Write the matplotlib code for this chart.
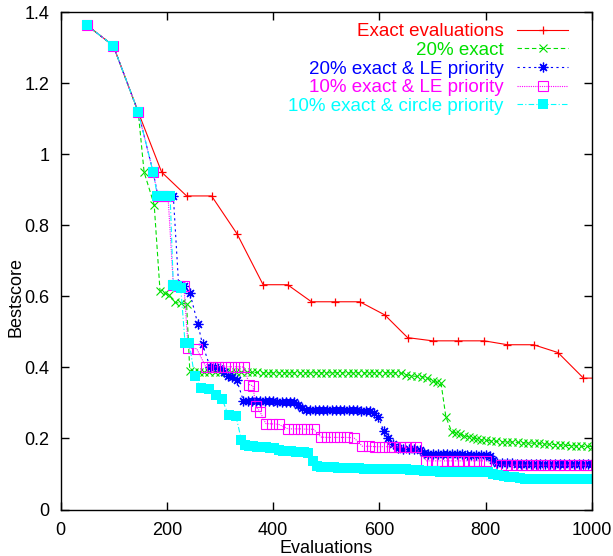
import matplotlib
matplotlib.use("Agg")
import matplotlib.pyplot as plt
from matplotlib.ticker import MultipleLocator, FormatStrFormatter

plt.rcParams['font.family'] = ['Liberation Sans', 'DejaVu Sans']
plt.rcParams['font.size'] = 13

# Exact evaluations
red_x = [50, 99, 146, 190, 237, 284, 332, 381, 427, 472,
         517, 563, 610, 653, 700, 748, 797, 841, 890, 936,
         984, 1000]
red_y = [1.363, 1.306, 1.119, 0.950, 0.883, 0.883, 0.776, 0.633, 0.633, 0.585,
         0.585, 0.585, 0.548, 0.484, 0.475, 0.475, 0.475, 0.464, 0.464, 0.442,
         0.370, 0.370]

# 20% exact
green_x = [50, 99, 146, 157, 176, 187, 196, 204, 215, 226,
           237, 243, 250, 260, 270, 280, 290, 300, 310, 320,
           330, 340, 350, 360, 370, 380, 390, 400, 410, 420,
           430, 440, 450, 460, 470, 480, 490, 500, 510, 520,
           530, 540, 550, 560, 570, 580, 590, 600, 610, 620,
           630, 640, 650, 660, 670, 680, 690, 700, 708, 716,
           725, 736, 744, 752, 760, 768, 776, 784, 792, 800,
           810, 820, 830, 840, 850, 860, 870, 880, 890, 900,
           910, 920, 930, 940, 950, 960, 970, 980, 990, 1000]
green_y = [1.363, 1.306, 1.119, 0.950, 0.858, 0.615, 0.609, 0.604, 0.583, 0.581,
           0.579, 0.391, 0.388, 0.387, 0.386, 0.386, 0.386, 0.386, 0.386, 0.386,
           0.386, 0.386, 0.386, 0.386, 0.386, 0.385, 0.385, 0.385, 0.385, 0.385,
           0.385, 0.385, 0.385, 0.385, 0.385, 0.385, 0.385, 0.385, 0.385, 0.385,
           0.385, 0.385, 0.385, 0.385, 0.385, 0.385, 0.385, 0.385, 0.385, 0.385,
           0.385, 0.384, 0.380, 0.376, 0.375, 0.374, 0.371, 0.362, 0.358, 0.355,
           0.261, 0.219, 0.215, 0.212, 0.208, 0.204, 0.202, 0.199, 0.196, 0.195,
           0.193, 0.192, 0.191, 0.190, 0.190, 0.189, 0.188, 0.187, 0.187, 0.186,
           0.185, 0.184, 0.183, 0.182, 0.181, 0.180, 0.179, 0.178, 0.178, 0.177]

# 20% exact & LE priority
blue_x = [50, 99, 146, 174, 183, 193, 203, 212, 222, 232,
          243, 258, 267, 281, 290, 300, 308, 315, 323, 331,
          344, 352, 360, 368, 376, 384, 392, 400, 408, 416,
          424, 432, 440, 447, 454, 462, 470, 478, 486, 494,
          502, 510, 518, 526, 534, 542, 550, 558, 566, 574,
          582, 590, 598, 608, 617, 626, 635, 645, 655, 665,
          676, 683, 692, 701, 710, 719, 728, 737, 746, 755,
          764, 773, 782, 791, 800, 808, 814, 822, 831, 840,
          849, 858, 867, 876, 885, 894, 903, 912, 921, 930,
          939, 948, 957, 966, 975, 984, 993, 1000]
blue_y = [1.363, 1.306, 1.119, 0.950, 0.883, 0.883, 0.883, 0.883, 0.632, 0.630,
          0.611, 0.523, 0.465, 0.402, 0.400, 0.398, 0.388, 0.377, 0.372, 0.366,
          0.306, 0.306, 0.306, 0.305, 0.305, 0.305, 0.305, 0.305, 0.304, 0.304,
          0.304, 0.304, 0.304, 0.295, 0.285, 0.280, 0.279, 0.279, 0.279, 0.279,
          0.279, 0.279, 0.279, 0.279, 0.279, 0.279, 0.279, 0.279, 0.278, 0.278,
          0.278, 0.272, 0.260, 0.222, 0.200, 0.185, 0.172, 0.171, 0.170, 0.170,
          0.169, 0.160, 0.157, 0.157, 0.156, 0.156, 0.156, 0.155, 0.155, 0.155,
          0.154, 0.154, 0.154, 0.153, 0.153, 0.152, 0.139, 0.131, 0.130, 0.130,
          0.130, 0.129, 0.129, 0.129, 0.129, 0.128, 0.128, 0.128, 0.128, 0.128,
          0.128, 0.127, 0.127, 0.127, 0.127, 0.127, 0.127, 0.127]

# 10% exact & LE priority
mag_x = [50, 99, 146, 174, 183, 192, 202, 212, 222, 232,
         240, 256, 273, 285, 297, 309, 321, 333, 345, 355,
         362, 367, 375, 386, 398, 410, 428, 440, 452, 464,
         476, 490, 502, 514, 526, 538, 552, 568, 580, 592,
         604, 618, 628, 638, 648, 658, 668, 688, 698, 708,
         718, 728, 738, 748, 758, 768, 778, 788, 800, 828,
         838, 848, 858, 868, 878, 888, 898, 908, 918, 928,
         938, 948, 958, 968, 978, 988, 996]
mag_y = [1.363, 1.306, 1.119, 0.950, 0.883, 0.883, 0.883, 0.632, 0.630, 0.628,
         0.455, 0.453, 0.402, 0.402, 0.402, 0.402, 0.402, 0.402, 0.401, 0.352,
         0.348, 0.291, 0.276, 0.242, 0.241, 0.240, 0.227, 0.227, 0.227, 0.226,
         0.226, 0.204, 0.203, 0.203, 0.203, 0.203, 0.202, 0.178, 0.178, 0.177,
         0.177, 0.177, 0.176, 0.176, 0.175, 0.175, 0.175, 0.137, 0.137, 0.137,
         0.137, 0.137, 0.137, 0.137, 0.137, 0.137, 0.137, 0.137, 0.137, 0.125,
         0.125, 0.125, 0.125, 0.125, 0.125, 0.125, 0.125, 0.125, 0.125, 0.125,
         0.125, 0.125, 0.125, 0.125, 0.125, 0.125, 0.125]

# 10% exact & circle priority
cyan_x = [50, 99, 146, 174, 182, 190, 198, 206, 212, 218,
          226, 234, 242, 252, 264, 279, 293, 304, 316, 330,
          340, 346, 354, 362, 370, 378, 386, 394, 402, 410,
          418, 426, 434, 442, 450, 458, 466, 474, 482, 490,
          498, 506, 514, 522, 530, 538, 546, 554, 562, 570,
          578, 586, 594, 602, 610, 618, 626, 634, 642, 650,
          658, 666, 674, 684, 694, 704, 714, 724, 734, 744,
          754, 764, 774, 784, 794, 804, 814, 824, 834, 844,
          854, 864, 874, 884, 894, 904, 914, 924, 934, 944,
          954, 964, 974, 984, 994, 1000]
cyan_y = [1.363, 1.306, 1.119, 0.950, 0.883, 0.883, 0.883, 0.883, 0.632, 0.630,
          0.625, 0.470, 0.468, 0.375, 0.342, 0.340, 0.322, 0.310, 0.265, 0.262,
          0.197, 0.182, 0.179, 0.178, 0.177, 0.176, 0.175, 0.174, 0.172, 0.168,
          0.166, 0.165, 0.164, 0.163, 0.162, 0.161, 0.159, 0.137, 0.122, 0.121,
          0.120, 0.119, 0.119, 0.118, 0.118, 0.117, 0.117, 0.116, 0.116, 0.115,
          0.115, 0.115, 0.114, 0.114, 0.114, 0.113, 0.113, 0.113, 0.113, 0.113,
          0.112, 0.112, 0.112, 0.108, 0.108, 0.108, 0.107, 0.107, 0.107, 0.107,
          0.107, 0.106, 0.106, 0.106, 0.106, 0.106, 0.100, 0.097, 0.093, 0.092,
          0.091, 0.088, 0.087, 0.087, 0.087, 0.087, 0.087, 0.087, 0.087, 0.087,
          0.087, 0.087, 0.087, 0.087, 0.087, 0.087]

fig = plt.figure(figsize=(6.13, 5.56), dpi=100)
ax = fig.add_axes([0.099, 0.0836, 0.8667, 0.8942])

lw = 0.8
ax.plot(red_x, red_y, color='#ff0000', lw=lw, marker='+', ms=6, mew=0.9,
        markevery=slice(0, len(red_x) - 1), label='Exact evaluations')
ax.plot(green_x, green_y, color='#00e000', lw=lw, dashes=(4, 2.5), marker='x',
        ms=5.5, mew=0.8, label='20% exact')
ax.plot(blue_x, blue_y, color='#0000ff', lw=lw, dashes=(2, 3), marker=(8, 2, 0),
        ms=7, mew=0.9, label='20% exact & LE priority')
ax.plot(mag_x, mag_y, color='#ff00ff', lw=lw, dashes=(1, 1), marker='s', ms=6.5,
        mew=0.8, markerfacecolor='none', label='10% exact & LE priority')
ax.plot(cyan_x, cyan_y, color='#00ffff', lw=lw, dashes=(5, 2, 1, 2), marker='s',
        ms=7, mew=0, label='10% exact & circle priority')

ax.set_xlim(0, 1000)
ax.set_ylim(0, 1.4)
ax.xaxis.set_major_locator(MultipleLocator(200))
ax.yaxis.set_major_locator(MultipleLocator(0.2))
ax.yaxis.set_major_formatter(FormatStrFormatter('%g'))
ax.tick_params(direction='in', top=True, right=True, length=6, width=1)
ax.tick_params(axis='y', pad=8)
ax.tick_params(axis='x', pad=9)
for s in ax.spines.values():
    s.set_linewidth(1.0)

ax.set_xlabel('Evaluations')
ax.set_ylabel('Bestscore')
ax.xaxis.set_label_coords(0.5, -0.061)
ax.yaxis.set_label_coords(-0.068, 0.427)

ax.legend(loc='upper right', bbox_to_anchor=(0.955, 0.978), frameon=False,
          markerfirst=False, alignment='right', labelcolor='linecolor',
          fontsize=13.5, handlelength=2.7, handletextpad=0.75, labelspacing=0.08,
          borderpad=0, borderaxespad=0, numpoints=1)

fig.savefig('out.png', dpi=100)
